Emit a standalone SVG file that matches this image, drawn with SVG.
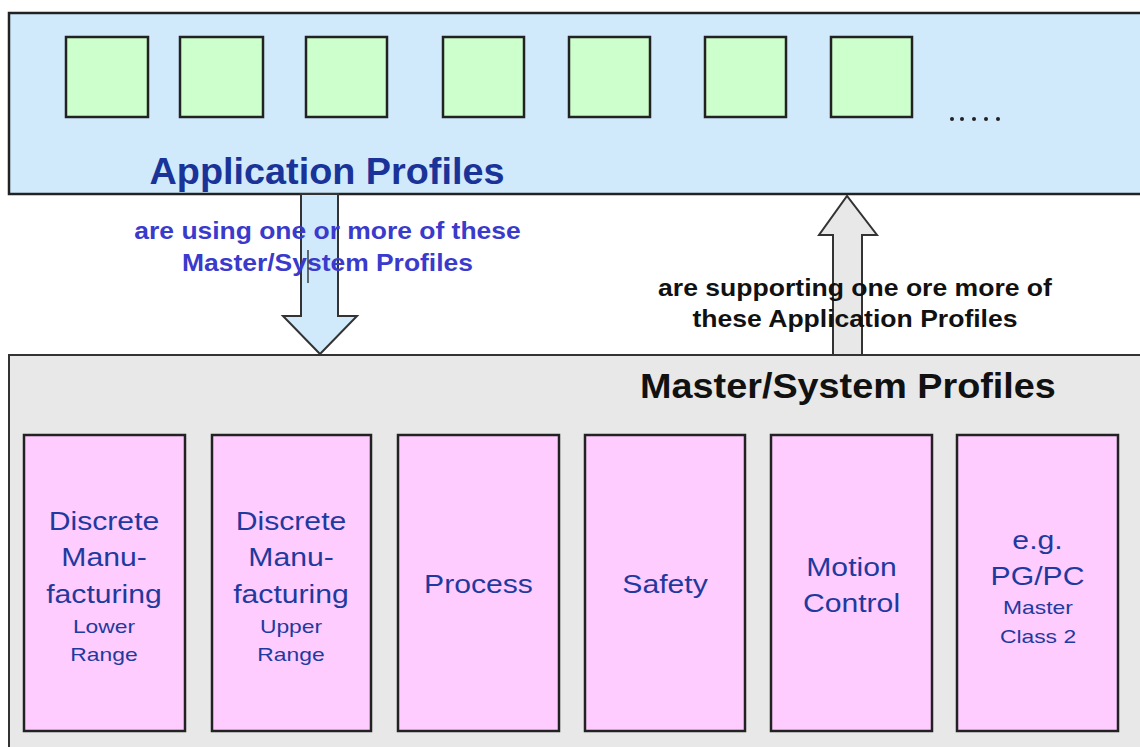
<svg xmlns="http://www.w3.org/2000/svg" width="1140" height="747" viewBox="0 0 1140 747">
<style>
.frame{stroke:#333;stroke-width:2}
.app{fill:#d0eafc;stroke:#222;stroke-width:2.5}
.sq{fill:#ccffcc;stroke:#222;stroke-width:2.5}
.pk{fill:#ffccff;stroke:#222;stroke-width:2.5}
.t{font-family:"Liberation Sans",Arial,sans-serif;text-anchor:middle}
.big{font-size:26px;fill:#1f3a9e}
.small{font-size:18px;fill:#1f3a9e}
.arr{stroke:#333;stroke-width:2}
</style>
<rect width="1140" height="747" fill="#fff"/>
<g id="application-profiles">
<rect x="9" y="13" width="1140" height="181" class="app"/>
<rect x="66" y="37" width="82" height="80" class="sq"/>
<rect x="180" y="37" width="83" height="80" class="sq"/>
<rect x="306" y="37" width="81" height="80" class="sq"/>
<rect x="443" y="37" width="81" height="80" class="sq"/>
<rect x="569" y="37" width="81" height="80" class="sq"/>
<rect x="705" y="37" width="81" height="80" class="sq"/>
<rect x="831" y="37" width="81" height="80" class="sq"/>
<g fill="#222"><circle cx="952" cy="119" r="2"/><circle cx="962" cy="119" r="2"/><circle cx="974" cy="119" r="2"/><circle cx="986" cy="119" r="2"/><circle cx="998" cy="119" r="2"/></g>
<g transform="matrix(1.05 0 0 1 327 0)"><text x="0" y="184" class="t" font-size="36" font-weight="bold" fill="#1a3399">Application Profiles</text></g>
</g>
<g id="master-system-profiles">
<rect x="9" y="355" width="1140" height="400" fill="#e8e8e8" stroke="#333" stroke-width="2"/>
<g transform="matrix(1.08 0 0 1 848 0)"><text x="0" y="398" class="t" font-size="35" font-weight="bold" fill="#111">Master/System Profiles</text></g>
</g>
<g id="connectors">
<polygon points="301,194 338,194 338,316 357,316 320,354 283,316 301,316" fill="#d0eafc" class="arr"/>
<polygon points="833,355 862,355 862,235 877,235 847,196 819,235 833,235" fill="#e8e8e8" class="arr"/>
<g transform="matrix(1.15 0 0 1 327.5 0)"><text class="t" font-size="23" font-weight="bold" fill="#3a3acc"><tspan x="0" y="239">are using one or more of these</tspan><tspan x="0" y="271">Master/System Profiles</tspan></text></g>
<line x1="308" y1="250" x2="308" y2="283" stroke="#111" stroke-width="1.2"/>
<g transform="matrix(1.155 0 0 1 855 0)"><text class="t" font-size="23" font-weight="bold" fill="#111"><tspan x="0" y="296">are supporting one ore more of</tspan><tspan x="0" y="327">these Application Profiles</tspan></text></g>
</g>
<g id="node-dm-lower">
<rect x="24" y="435" width="161" height="296" class="pk"/>
<g transform="matrix(1.16 0 0 1 104 0)"><text class="t big"><tspan x="0" y="530">Discrete</tspan><tspan x="0" y="566">Manu-</tspan><tspan x="0" y="603">facturing</tspan></text></g>
<g transform="matrix(1.27 0 0 1 104 0)"><text class="t small"><tspan x="0" y="633">Lower</tspan><tspan x="0" y="661">Range</tspan></text></g>
</g>
<g id="node-dm-upper">
<rect x="212" y="435" width="159" height="296" class="pk"/>
<g transform="matrix(1.16 0 0 1 291 0)"><text class="t big"><tspan x="0" y="530">Discrete</tspan><tspan x="0" y="566">Manu-</tspan><tspan x="0" y="603">facturing</tspan></text></g>
<g transform="matrix(1.27 0 0 1 291 0)"><text class="t small"><tspan x="0" y="633">Upper</tspan><tspan x="0" y="661">Range</tspan></text></g>
</g>
<g id="node-process">
<rect x="398" y="435" width="161" height="296" class="pk"/>
<g transform="matrix(1.16 0 0 1 478.5 0)"><text x="0" y="593" class="t big">Process</text></g>
</g>
<g id="node-safety">
<rect x="585" y="435" width="160" height="296" class="pk"/>
<g transform="matrix(1.16 0 0 1 665 0)"><text x="0" y="593" class="t big">Safety</text></g>
</g>
<g id="node-motion">
<rect x="771" y="435" width="161" height="296" class="pk"/>
<g transform="matrix(1.16 0 0 1 851.5 0)"><text class="t big"><tspan x="0" y="576">Motion</tspan><tspan x="0" y="612">Control</tspan></text></g>
</g>
<g id="node-pgpc">
<rect x="957" y="435" width="161" height="296" class="pk"/>
<g transform="matrix(1.16 0 0 1 1037.5 0)"><text class="t big"><tspan x="0" y="549">e.g.</tspan><tspan x="0" y="585">PG/PC</tspan></text></g>
<g transform="matrix(1.27 0 0 1 1038 0)"><text class="t small"><tspan x="0" y="614">Master</tspan><tspan x="0" y="643">Class 2</tspan></text></g>
</g>
</svg>
